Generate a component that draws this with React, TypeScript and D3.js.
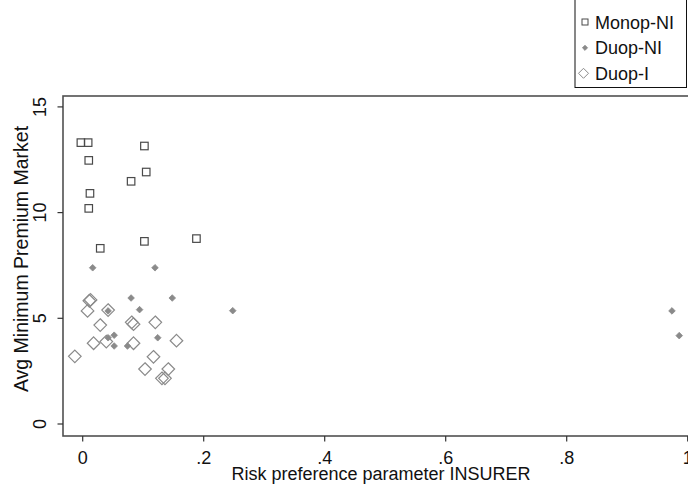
import React from "react";
import * as d3 from "d3";

const monopNI: [number, number][] = [
  [-0.003, 13.31], [0.009, 13.31], [0.010, 12.47], [0.102, 13.15], [0.105, 11.92],
  [0.080, 11.48], [0.012, 10.91], [0.010, 10.20], [0.029, 8.31], [0.102, 8.64], [0.188, 8.77],
];
const duopNI: [number, number][] = [
  [0.0165, 7.39], [0.1195, 7.39], [0.080, 5.96], [0.148, 5.96], [0.094, 5.41],
  [0.248, 5.36], [0.042, 5.35], [0.124, 4.08], [0.042, 4.08], [0.052, 4.20],
  [0.052, 3.69], [0.074, 3.69], [0.974, 5.35], [0.986, 4.18],
];
const duopI: [number, number][] = [
  [0.011, 5.83], [0.013, 5.87], [0.008, 5.35], [0.042, 5.39], [0.029, 4.68],
  [0.081, 4.81], [0.084, 4.72], [0.120, 4.81], [0.018, 3.82], [0.039, 3.90],
  [0.084, 3.82], [0.155, 3.94], [-0.013, 3.20], [0.117, 3.18], [0.103, 2.60],
  [0.1415, 2.60], [0.131, 2.16], [0.136, 2.16],
];
const xTicks = [0, 0.2, 0.4, 0.6, 0.8, 1];
const xTickLabels = ["0", ".2", ".4", ".6", ".8", "1"];
const yTicks = [0, 5, 10, 15];
const legendLabels = ["Monop-NI", "Duop-NI", "Duop-I"];

const FONT = "Arial, 'Liberation Sans', Helvetica, sans-serif";

export default function App() {
  const W = 688, H = 485;
  const x = d3.scaleLinear().domain([0, 1]).range([82.7, 687.7]);
  const y = d3.scaleLinear().domain([0, 15]).range([424, 106.9]);
  const frame = { left: 63, top: 96, right: 703, bottom: 436 };

  const sq = 7.5;
  const dFill = 3.3;
  const dHollow = 6.3;
  const diamond = (cx: number, cy: number, r: number) =>
    `M${cx},${cy - r}L${cx + r},${cy}L${cx},${cy + r}L${cx - r},${cy}Z`;

  return (
    <svg width={W} height={H} style={{ position: "absolute", left: 0, top: 0, background: "#fff" }}>
      <rect x={0} y={0} width={W} height={H} fill="#fff" />
      {/* plot frame */}
      <rect x={frame.left} y={frame.top} width={frame.right - frame.left} height={frame.bottom - frame.top}
        fill="none" stroke="#505050" strokeWidth={1.6} />
      {/* y ticks */}
      {yTicks.map((t) => (
        <g key={"y" + t}>
          <line x1={frame.left - 5.5} x2={frame.left} y1={y(t)} y2={y(t)} stroke="#333" strokeWidth={1.2} />
          <text transform={`translate(${frame.left - 17},${y(t)}) rotate(-90)`} textAnchor="middle"
            fontFamily={FONT} fontSize={18} fill="#111">{t}</text>
        </g>
      ))}
      {/* x ticks */}
      {xTicks.map((t, i) => (
        <g key={"x" + t}>
          <line x1={x(t)} x2={x(t)} y1={frame.bottom} y2={frame.bottom + 5.5} stroke="#333" strokeWidth={1.2} />
          <text x={x(t)} y={464} textAnchor="middle" fontFamily={FONT} fontSize={18} fill="#111">{xTickLabels[i]}</text>
        </g>
      ))}
      {/* axis titles */}
      <text x={381} y={480} textAnchor="middle" fontFamily={FONT} fontSize={18} fill="#111">
        Risk preference parameter INSURER
      </text>
      <text transform={`translate(28,259) rotate(-90)`} textAnchor="middle" fontFamily={FONT} fontSize={19.5} fill="#111">
        Avg Minimum Premium Market
      </text>
      {/* data */}
      {duopI.map(([a, b], i) => (
        <path key={"di" + i} d={diamond(x(a), y(b), dHollow)} fill="none" stroke="#8a8a8a" strokeWidth={1.2} />
      ))}
      {duopNI.map(([a, b], i) => (
        <path key={"dn" + i} d={diamond(x(a), y(b), dFill)} fill="#8a8a8a" stroke="#8a8a8a" strokeWidth={0.8} />
      ))}
      {monopNI.map(([a, b], i) => (
        <rect key={"m" + i} x={x(a) - sq / 2} y={y(b) - sq / 2} width={sq} height={sq}
          fill="none" stroke="#4a4a4a" strokeWidth={1.2} />
      ))}
      {/* legend */}
      <rect x={575} y={-1} width={111.5} height={88.5} fill="#fff" stroke="#111" strokeWidth={1} />
      {legendLabels.map((lab, i) => {
        const cy = [22, 47.8, 73.3][i];
        return (
          <g key={lab}>
            {i === 0 && <rect x={582} y={cy - 3} width={6} height={6} fill="none" stroke="#4a4a4a" strokeWidth={1} />}
            {i === 1 && <path d={diamond(585, cy, 2.6)} fill="#8a8a8a" stroke="#8a8a8a" strokeWidth={0.8} />}
            {i === 2 && <path d={diamond(583.5, cy, 5)} fill="none" stroke="#8a8a8a" strokeWidth={1} />}
            <text x={595} y={cy + 6.5} fontFamily={FONT} fontSize={18} fill="#111">{lab}</text>
          </g>
        );
      })}
    </svg>
  );
}
